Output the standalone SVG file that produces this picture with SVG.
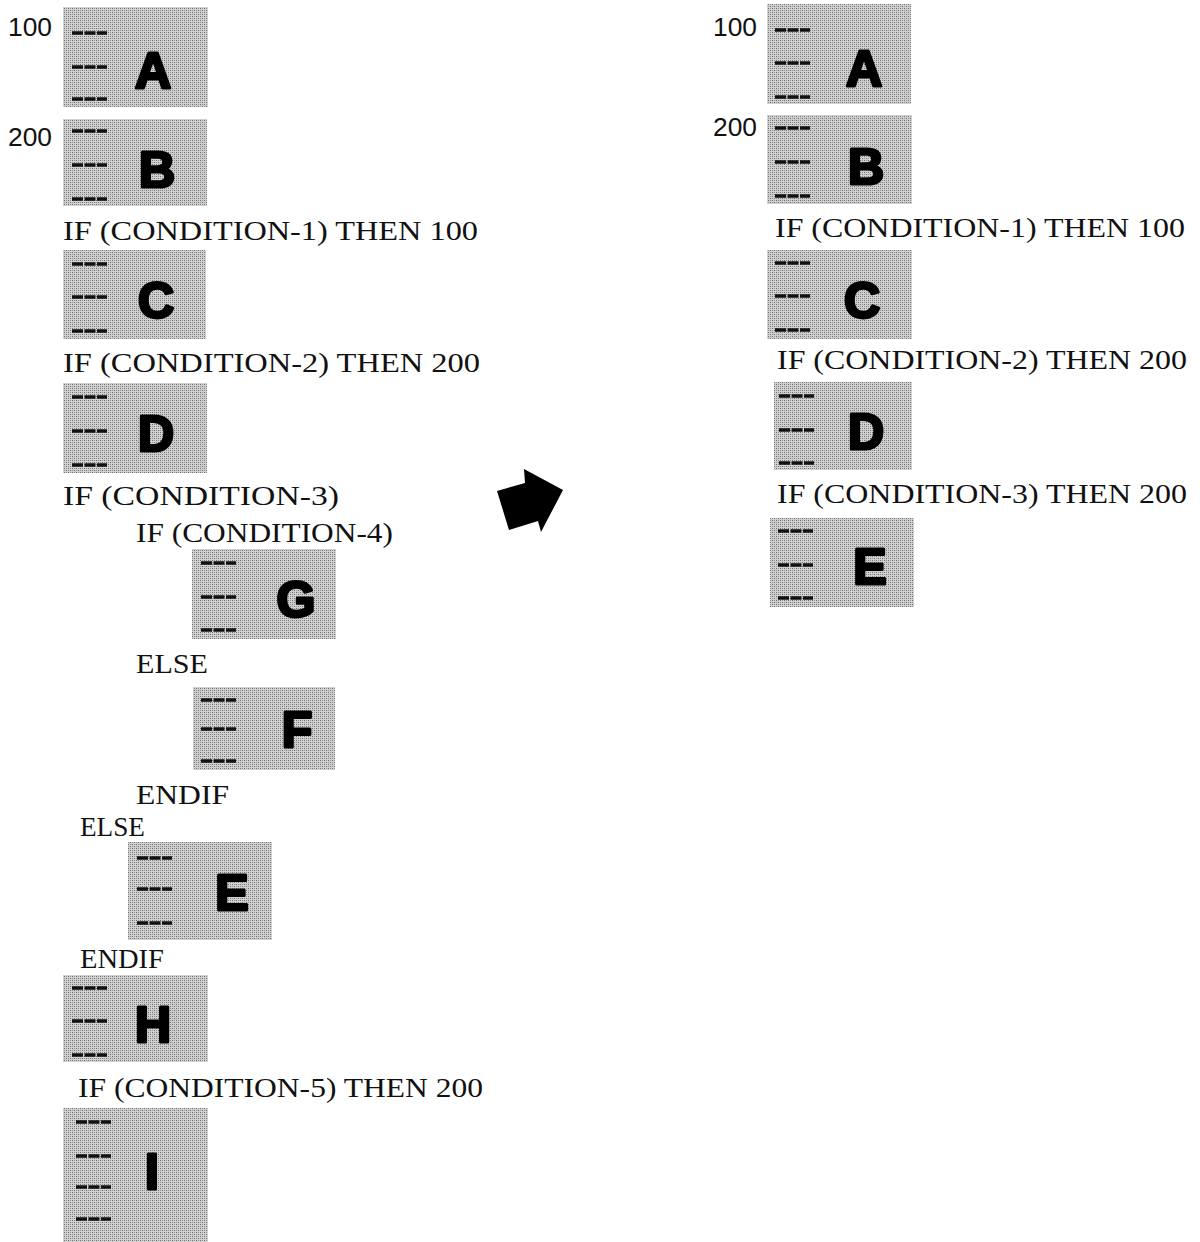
<svg xmlns="http://www.w3.org/2000/svg" width="1200" height="1242" viewBox="0 0 1200 1242">
<defs>
<pattern id="dither" width="4" height="4" patternUnits="userSpaceOnUse">
<rect width="4" height="4" fill="#d0d0d0"/>
<rect x="0" y="0" width="1" height="1" fill="#6e6e6e"/>
<rect x="2" y="2" width="1" height="1" fill="#6e6e6e"/>
<rect x="2" y="0" width="1" height="1" fill="#959595"/>
<rect x="0" y="2" width="1" height="1" fill="#959595"/>
</pattern>
</defs>
<style>
.box{fill:url(#dither);}
.dash{stroke:#111;stroke-width:3.5;stroke-dasharray:11,1.5;fill:none;}
.let{font-family:"Liberation Sans","DejaVu Sans",sans-serif;font-weight:900;font-size:50px;fill:#000;stroke:#000;stroke-width:3;stroke-linejoin:round;text-anchor:middle;}
.t{font-family:"Liberation Serif","DejaVu Serif",serif;font-size:28px;fill:#111;}
.n{font-family:"Liberation Sans","DejaVu Sans",sans-serif;font-size:26px;fill:#111;}
</style>
<rect width="1200" height="1242" fill="#fff"/>

<!-- Left column -->
<text class="n" x="8" y="36" textLength="44" lengthAdjust="spacingAndGlyphs">100</text>
<g id="L-A"><rect class="box" x="63" y="7" width="145" height="100"/>
<path class="dash" d="M72 33H107M72 67H107M72 99H107"/><text class="let" x="153" y="88">A</text></g>
<text class="n" x="8" y="146" textLength="44" lengthAdjust="spacingAndGlyphs">200</text>
<g id="L-B"><rect class="box" x="63" y="119" width="144" height="87"/>
<path class="dash" d="M72 131H107M72 165H107M72 199H107"/><text class="let" x="157" y="187">B</text></g>
<text class="t" x="63" y="240" textLength="415" lengthAdjust="spacingAndGlyphs">IF (CONDITION-1) THEN 100</text>
<g id="L-C"><rect class="box" x="63" y="250" width="143" height="89"/>
<path class="dash" d="M72 264H107M72 297H107M72 331H107"/><text class="let" x="156" y="318">C</text></g>
<text class="t" x="63" y="372" textLength="417" lengthAdjust="spacingAndGlyphs">IF (CONDITION-2) THEN 200</text>
<g id="L-D"><rect class="box" x="63" y="383" width="144" height="90"/>
<path class="dash" d="M72 397H107M72 431H107M72 465H107"/><text class="let" x="156" y="451">D</text></g>
<text class="t" x="63" y="505" textLength="276" lengthAdjust="spacingAndGlyphs">IF (CONDITION-3)</text>
<text class="t" x="136" y="542" textLength="257" lengthAdjust="spacingAndGlyphs">IF (CONDITION-4)</text>
<g id="L-G"><rect class="box" x="192" y="549" width="144" height="90"/>
<path class="dash" d="M201 563H236M201 597H236M201 630H236"/><text class="let" x="296" y="617">G</text></g>
<text class="t" x="136" y="673" textLength="72" lengthAdjust="spacingAndGlyphs">ELSE</text>
<g id="L-F"><rect class="box" x="193" y="687" width="142" height="83"/>
<path class="dash" d="M201 700H236M201 729H236M201 761H236"/><text class="let" x="297" y="747">F</text></g>
<text class="t" x="136" y="804" textLength="93" lengthAdjust="spacingAndGlyphs">ENDIF</text>
<text class="t" x="80" y="836" textLength="65" lengthAdjust="spacingAndGlyphs">ELSE</text>
<g id="L-E"><rect class="box" x="128" y="842" width="144" height="98"/>
<path class="dash" d="M137 858H172M137 889H172M137 923H172"/><text class="let" x="232" y="910">E</text></g>
<text class="t" x="80" y="968" textLength="84" lengthAdjust="spacingAndGlyphs">ENDIF</text>
<g id="L-H"><rect class="box" x="63" y="975" width="145" height="87"/>
<path class="dash" d="M72 988H107M72 1021H107M72 1055H107"/><text class="let" x="153" y="1042">H</text></g>
<text class="t" x="78" y="1097" textLength="405" lengthAdjust="spacingAndGlyphs">IF (CONDITION-5) THEN 200</text>
<g id="L-I"><rect class="box" x="63" y="1108" width="145" height="134"/>
<path class="dash" d="M76 1122H111M76 1156H111M76 1187H111M76 1219H111"/><text class="let" x="152" y="1189">I</text></g>

<!-- Arrow -->
<g id="arrow"><polygon points="497,491 525,483 524,469 563,490 541,532 538,521 509,530" fill="#000"/></g>

<!-- Right column -->
<text class="n" x="713" y="36" textLength="44" lengthAdjust="spacingAndGlyphs">100</text>
<g id="R-A"><rect class="box" x="767" y="4" width="144" height="100"/>
<path class="dash" d="M775 30H810M775 63H810M775 97H810"/><text class="let" x="864" y="86">A</text></g>
<text class="n" x="713" y="136" textLength="44" lengthAdjust="spacingAndGlyphs">200</text>
<g id="R-B"><rect class="box" x="767" y="115" width="145" height="89"/>
<path class="dash" d="M775 128H810M775 162H810M775 196H810"/><text class="let" x="866" y="184">B</text></g>
<text class="t" x="775" y="237" textLength="410" lengthAdjust="spacingAndGlyphs">IF (CONDITION-1) THEN 100</text>
<g id="R-C"><rect class="box" x="767" y="250" width="145" height="89"/>
<path class="dash" d="M775 263H810M775 296H810M775 330H810"/><text class="let" x="862" y="318">C</text></g>
<text class="t" x="777" y="369" textLength="410" lengthAdjust="spacingAndGlyphs">IF (CONDITION-2) THEN 200</text>
<g id="R-D"><rect class="box" x="774" y="382" width="138" height="88"/>
<path class="dash" d="M779 396H814M779 430H814M779 463H814"/><text class="let" x="866" y="449">D</text></g>
<text class="t" x="777" y="503" textLength="410" lengthAdjust="spacingAndGlyphs">IF (CONDITION-3) THEN 200</text>
<g id="R-E"><rect class="box" x="770" y="518" width="144" height="89"/>
<path class="dash" d="M778 531H813M778 565H813M778 598H813"/><text class="let" x="870" y="584">E</text></g>
</svg>
